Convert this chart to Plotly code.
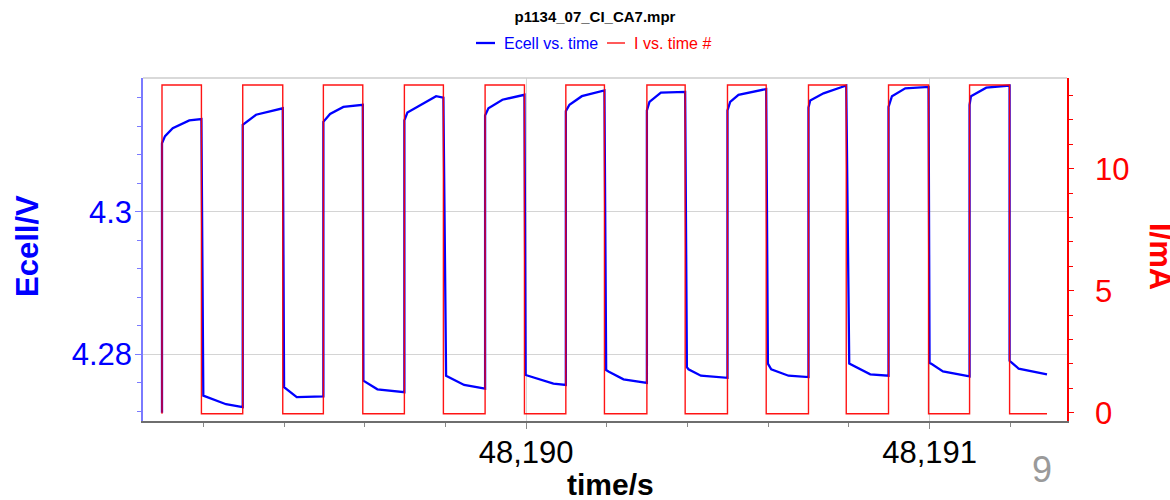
import plotly.graph_objects as go

# Ecell trace: time (s) and cell potential (V)
ecell_time = [
    48189.0974, 48189.0974, 48189.1049, 48189.1240, 48189.1651, 48189.1951,
    48189.1998, 48189.2561, 48189.2975,
    48189.2975, 48189.3305, 48189.3967,
    48189.4000, 48189.4314, 48189.4974,
    48189.4974, 48189.5140, 48189.5470, 48189.5951,
    48189.5966, 48189.6313, 48189.6982,
    48189.6982, 48189.7057, 48189.7768, 48189.7949,
    48189.8016, 48189.8463, 48189.8983,
    48189.8983, 48189.9065, 48189.9412, 48189.9958,
    48189.9988, 48190.0677, 48190.0984,
    48190.0984, 48190.1074, 48190.1381, 48190.1941,
    48190.1984, 48190.2041, 48190.2413, 48190.2993,
    48190.2993, 48190.3057, 48190.3340, 48190.3942,
    48190.3985, 48190.4024, 48190.4332, 48190.4991,
    48190.4991, 48190.5058, 48190.5264, 48190.5951,
    48190.5993, 48190.6075, 48190.6504, 48190.6999,
    48190.6999, 48190.7042, 48190.7372, 48190.7935,
    48190.8009, 48190.8076, 48190.8530, 48190.8983,
    48190.8983, 48190.9068, 48190.9398, 48190.9975,
    48191.0000, 48191.0035, 48191.0332, 48191.0992,
    48191.0992, 48191.1027, 48191.1406, 48191.1984,
    48191.1984, 48191.2043, 48191.2207, 48191.2911,
]
ecell_v = [
    4.2718, 4.3096, 4.3106, 4.3117, 4.3128, 4.3130,
    4.2742, 4.2730, 4.2726,
    4.3122, 4.3136, 4.3145,
    4.2754, 4.2740, 4.2741,
    4.3126, 4.3137, 4.3147, 4.3150,
    4.2763, 4.2751, 4.2747,
    4.3128, 4.3139, 4.3162, 4.3160,
    4.2770, 4.2757, 4.2752,
    4.3135, 4.3145, 4.3157, 4.3164,
    4.2771, 4.2759, 4.2757,
    4.3141, 4.3150, 4.3162, 4.3170,
    4.2778, 4.2776, 4.2765, 4.2760,
    4.3142, 4.3154, 4.3167, 4.3168,
    4.2782, 4.2779, 4.2770, 4.2767,
    4.3142, 4.3154, 4.3164, 4.3172,
    4.2787, 4.2779, 4.2770, 4.2768,
    4.3146, 4.3156, 4.3166, 4.3177,
    4.2787, 4.2785, 4.2772, 4.2770,
    4.3147, 4.3162, 4.3173, 4.3175,
    4.2788, 4.2787, 4.2776, 4.2769,
    4.3150, 4.3162, 4.3174, 4.3177,
    4.2791, 4.2788, 4.2780, 4.2772,
]

# Current trace: time (s) and current (mA)
i_time = [
    48189.0974, 48189.0974, 48189.1951, 48189.1951,
    48189.2975, 48189.2975, 48189.3967, 48189.3967,
    48189.4974, 48189.4974, 48189.5951, 48189.5951,
    48189.6982, 48189.6982, 48189.7949, 48189.7949,
    48189.8983, 48189.8983, 48189.9958, 48189.9958,
    48190.0984, 48190.0984, 48190.1941, 48190.1941,
    48190.2993, 48190.2993, 48190.3942, 48190.3942,
    48190.4991, 48190.4991, 48190.5951, 48190.5951,
    48190.6999, 48190.6999, 48190.7935, 48190.7935,
    48190.8983, 48190.8983, 48190.9975, 48190.9975,
    48191.0992, 48191.0992, 48191.1984, 48191.1984,
    48191.2911,
]
i_ma = [
    -0.04, 13.43, 13.43, -0.04,
    -0.04, 13.43, 13.43, -0.04,
    -0.04, 13.43, 13.43, -0.04,
    -0.04, 13.43, 13.43, -0.04,
    -0.04, 13.43, 13.43, -0.04,
    -0.04, 13.43, 13.43, -0.04,
    -0.04, 13.43, 13.43, -0.04,
    -0.04, 13.43, 13.43, -0.04,
    -0.04, 13.43, 13.43, -0.04,
    -0.04, 13.43, 13.43, -0.04,
    -0.04, 13.43, 13.43, -0.04,
    -0.04,
]

FONT = "Liberation Sans, Arial, sans-serif"
BLUE = "#0000ff"
RED = "#ff0000"

fig = go.Figure()
fig.add_trace(go.Scatter(
    x=ecell_time, y=ecell_v, mode="lines", name="Ecell vs. time",
    line=dict(color=BLUE, width=2.3), yaxis="y", showlegend=False,
))
fig.add_trace(go.Scatter(
    x=i_time, y=i_ma, mode="lines", name="I vs. time #",
    line=dict(color="rgba(255,0,0,0.92)", width=1.4), yaxis="y2", showlegend=False,
))

W, H = 1170, 500
L, R, T, B = 143, 103, 78, 79
pw, ph = W - L - R, H - T - B


def px(x):
    return (x - L) / pw


def py(y):
    return (H - B - y) / ph


fig.update_layout(
    template="none",
    width=W, height=H,
    margin=dict(l=L, r=R, t=T, b=B, pad=0),
    paper_bgcolor="white", plot_bgcolor="white",
    font=dict(family=FONT),
    title=dict(
        text="<b>p1134_07_CI_CA7.mpr</b>",
        font=dict(size=15, color="black", family=FONT),
        x=595 / W, xref="container", xanchor="center",
        y=1 - 17 / H, yref="container", yanchor="middle",
    ),
    xaxis=dict(
        range=[48189.0503, 48191.3407],
        tick0=48190, dtick=1, tickformat=",d",
        ticks="outside", ticklen=6, tickwidth=1, tickcolor="#888888",
        tickfont=dict(size=31, color="black", family=FONT),
        ticklabelstandoff=-3,
        showline=True, linecolor="#6e6e6e", linewidth=2,
        showgrid=True, gridcolor="#d4d4d4", gridwidth=1.3,
        zeroline=False, automargin=False,
        minor=dict(dtick=0.2, tick0=48190, ticks="outside", ticklen=4,
                   tickcolor="#888888", showgrid=False),
    ),
    yaxis=dict(
        range=[4.27065, 4.31875],
        tick0=4.28, dtick=0.02,
        ticks="outside", ticklen=6, tickwidth=1, tickcolor="#7a7aff",
        tickfont=dict(size=31, color=BLUE, family=FONT),
        ticklabelstandoff=-3,
        showline=True, linecolor="#7a7aff", linewidth=1.5,
        showgrid=True, gridcolor="#d4d4d4", gridwidth=1.3,
        zeroline=False, automargin=False,
        minor=dict(dtick=0.004, tick0=4.28, ticks="outside", ticklen=4,
                   tickcolor="#7a7aff", showgrid=False),
    ),
    yaxis2=dict(
        range=[-0.34, 13.72],
        overlaying="y", side="right", anchor="x",
        tick0=0, dtick=5,
        ticks="outside", ticklen=5, tickwidth=1, tickcolor=RED,
        tickfont=dict(size=31, color=RED, family=FONT),
        ticklabelstandoff=15,
        showline=True, linecolor=RED, linewidth=1.5,
        showgrid=False, zeroline=False, automargin=False,
        minor=dict(dtick=1, tick0=0, ticks="outside", ticklen=4,
                   tickcolor=RED, showgrid=False),
    ),
)

# frame line along the top of the plotting area
fig.add_shape(type="line", xref="paper", yref="paper", x0=0, x1=1, y0=1, y1=1,
              line=dict(color="#cccccc", width=1.5))

# legend row under the title
fig.add_shape(type="line", xref="paper", yref="paper",
              x0=px(476), x1=px(495), y0=py(43), y1=py(43),
              line=dict(color=BLUE, width=2.3))
fig.add_shape(type="line", xref="paper", yref="paper",
              x0=px(607), x1=px(625), y0=py(43), y1=py(43),
              line=dict(color=RED, width=1.3))

annotations = [
    dict(text="Ecell vs. time", x=px(502), y=py(43), xanchor="left", yanchor="middle",
         font=dict(size=16, color=BLUE, family=FONT)),
    dict(text="I vs. time #", x=px(632), y=py(43), xanchor="left", yanchor="middle",
         font=dict(size=16, color=RED, family=FONT)),
    dict(text="<b>Ecell/V</b>", x=px(27), y=py(246), textangle=-90,
         xanchor="center", yanchor="middle",
         font=dict(size=31, color=BLUE, family=FONT)),
    dict(text="<b>I/mA</b>", x=px(1161), y=py(256), textangle=90,
         xanchor="center", yanchor="middle",
         font=dict(size=31, color=RED, family=FONT)),
    dict(text="<b>time/s</b>", x=px(610), y=py(484),
         xanchor="center", yanchor="middle",
         font=dict(size=30, color="black", family=FONT)),
    dict(text="9", x=px(1042), y=py(469), xanchor="center", yanchor="middle",
         font=dict(size=36, color="#9a9a9a", family=FONT)),
]
for a in annotations:
    a.update(xref="paper", yref="paper", showarrow=False)
fig.update_layout(annotations=annotations)

fig.write_html("out.html")
